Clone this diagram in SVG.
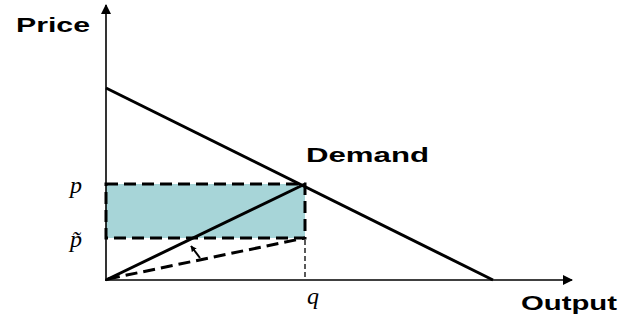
<svg xmlns="http://www.w3.org/2000/svg" width="644" height="320" viewBox="0 0 644 320">
<defs>
<marker id="ah" viewBox="0 0 10 10" refX="9" refY="5" markerWidth="6" markerHeight="6" orient="auto" markerUnits="userSpaceOnUse">
<path d="M0,0 L10,5 L0,10 Z" fill="#000"/>
</marker>
<marker id="ah2" viewBox="0 0 10 10" refX="9" refY="5" markerWidth="12" markerHeight="10" orient="auto-start-reverse" markerUnits="userSpaceOnUse">
<path d="M0,0 L10,5 L0,10 Z" fill="#000"/>
</marker>
</defs>
<style>
.lbl{font-family:"Liberation Sans",Arial,sans-serif;font-weight:bold;font-size:21px;fill:#000}
.math{font-family:"Liberation Serif","Times New Roman",serif;font-style:italic;font-size:24px;fill:#000}
.solid{stroke:#000;stroke-width:3;fill:none}
.axis{stroke:#000;stroke-width:1.6;fill:none}
.dash{stroke:#000;stroke-width:3;fill:none;stroke-dasharray:12,6}
</style>
<rect width="644" height="320" fill="#fff"/>
<g id="rect">
<rect x="106" y="184" width="199" height="54" fill="#a7d5d8"/>
</g>
<g id="connectors">
<line class="axis" x1="106" y1="281" x2="106" y2="5" marker-end="url(#ah2)"/>
<line class="axis" x1="105" y1="280" x2="572" y2="280" marker-end="url(#ah2)"/>
<line class="solid" x1="106" y1="88" x2="493" y2="280"/>
<line class="solid" x1="106" y1="280" x2="305" y2="184"/>
<path class="dash" d="M106,184 H305 V238 H106 Z"/>
<line class="dash" x1="108" y1="279" x2="305" y2="238"/>
<line stroke="#000" stroke-width="1.3" stroke-dasharray="5,3" x1="305" y1="240" x2="305" y2="280"/>
<line stroke="#000" stroke-width="2" x1="200" y1="258" x2="191" y2="246" marker-end="url(#ah)"/>
</g>
<g id="labels">
<text class="lbl" x="16" y="32" textLength="74" lengthAdjust="spacingAndGlyphs">Price</text>
<text class="lbl" x="306" y="162" textLength="123" lengthAdjust="spacingAndGlyphs">Demand</text>
<text class="lbl" x="521" y="310" textLength="96" lengthAdjust="spacingAndGlyphs">Output</text>
<text class="math" x="70" y="193">p</text>
<text class="math" x="70" y="247">p̃</text>
<text class="math" x="307" y="304">q</text>
</g>
</svg>
